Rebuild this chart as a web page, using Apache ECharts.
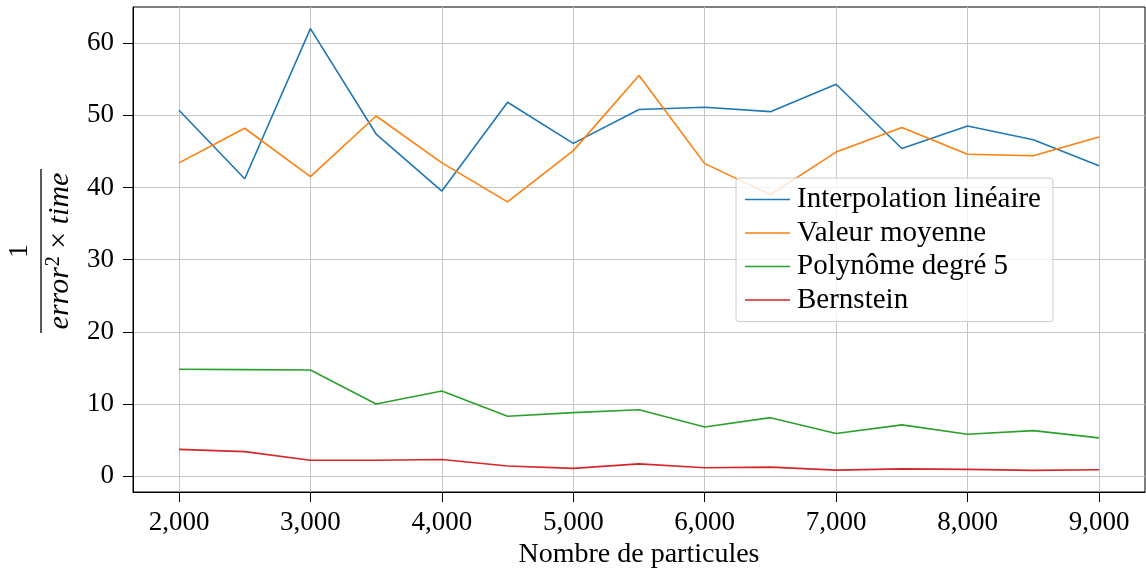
<!DOCTYPE html>
<html>
<head>
<meta charset="utf-8">
<script src="https://cdn.jsdelivr.net/npm/echarts@6/dist/echarts.min.js"></script>
<style>
  html, body { margin: 0; padding: 0; background: #fff; }
  #chart { width: 1146px; height: 570px; }
</style>
</head>
<body>
<div id="chart"></div>
<script>
// Number of particles used in each run
const particles = [2000, 2500, 3000, 3500, 4000, 4500, 5000, 5500, 6000, 6500, 7000, 7500, 8000, 8500, 9000];

// Efficiency 1 / (error^2 * time) for each method
const interpolationLineaire = [50.7, 41.2, 62.0, 47.4, 39.5, 51.8, 46.1, 50.8, 51.1, 50.5, 54.3, 45.4, 48.5, 46.6, 43.0];
const valeurMoyenne = [43.4, 48.2, 41.5, 49.9, 43.4, 38.0, 45.1, 55.5, 43.3, 39.0, 44.9, 48.3, 44.6, 44.4, 47.0];
const polynomeDegre5 = [14.8, 14.75, 14.7, 10.0, 11.8, 8.3, 8.8, 9.2, 6.8, 8.1, 5.9, 7.1, 5.8, 6.3, 5.3];
const bernstein = [3.7, 3.4, 2.2, 2.2, 2.3, 1.4, 1.07, 1.7, 1.15, 1.25, 0.83, 1.0, 0.93, 0.8, 0.88];

const seriesNames = ['Interpolation linéaire', 'Valeur moyenne', 'Polynôme degré 5', 'Bernstein'];
const seriesColors = ['#1f77b4', '#ff7f0e', '#2ca02c', '#d62728'];

// Tick positions
const xTicks = [2000, 3000, 4000, 5000, 6000, 7000, 8000, 9000];
const yTicks = [0, 10, 20, 30, 40, 50, 60];

const xAxisTitle = 'Nombre de particules';

const FONT = 'Liberation Serif';

function withThousands(v) {
  return String(Math.round(v)).replace(/\B(?=(\d{3})+(?!\d))/g, ',');
}

function pairs(values) {
  return particles.map((p, i) => [p, values[i]]);
}

const allValues = [interpolationLineaire, valeurMoyenne, polynomeDegre5, bernstein];

const chart = echarts.init(document.getElementById('chart'), null, { renderer: 'canvas' });

const gridLine = { show: true, lineStyle: { color: '#c6c6c6', width: 1 } };

chart.setOption({
  animation: false,
  backgroundColor: '#ffffff',
  grid: {
    left: 133, top: 7, width: 1012, height: 485,
    outerBoundsMode: 'none',
    containLabel: false,
    show: true, borderColor: '#000', borderWidth: 1, backgroundColor: 'transparent'
  },
  xAxis: {
    type: 'value',
    min: 1650, max: 9350,
    name: xAxisTitle,
    nameLocation: 'middle',
    nameGap: 46,
    nameTextStyle: { fontFamily: FONT, fontSize: 28, color: '#000' },
    axisLine: { show: true, onZero: false, lineStyle: { color: '#000', width: 1 } },
    axisTick: { show: true, inside: false, length: 10, lineStyle: { color: '#000' }, customValues: xTicks },
    axisLabel: {
      show: true, margin: 17, fontFamily: FONT, fontSize: 27, color: '#000',
      customValues: xTicks, formatter: withThousands
    },
    splitLine: gridLine
  },
  yAxis: {
    type: 'value',
    min: -2.2, max: 65.0,
    axisLine: { show: true, onZero: false, lineStyle: { color: '#000', width: 1 } },
    axisTick: { show: true, inside: false, length: 10, lineStyle: { color: '#000' }, customValues: yTicks },
    axisLabel: {
      show: true, margin: 19, fontFamily: FONT, fontSize: 27, color: '#000',
      customValues: yTicks
    },
    splitLine: gridLine
  },
  legend: {
    orient: 'vertical',
    left: 736, top: 178,
    padding: [6, 12, 6, 9],
    itemWidth: 45, itemHeight: 1.6, itemGap: 2.5,
    icon: 'rect',
    backgroundColor: 'rgba(255,255,255,0.8)',
    borderColor: '#cccccc', borderWidth: 1, borderRadius: 3,
    textStyle: { fontFamily: FONT, fontSize: 29, color: '#000', lineHeight: 31, padding: [0, 0, 0, 2] },
    data: seriesNames
  },
  graphic: [{
    type: 'group',
    x: 41, y: 251,
    rotation: Math.PI / 2,
    children: [
      { type: 'text', x: 0, y: -21,
        style: { text: '1', fontFamily: FONT, fontSize: 28, fill: '#000', align: 'center', verticalAlign: 'middle' } },
      { type: 'line', shape: { x1: -82, y1: 0, x2: 82, y2: 0 }, style: { stroke: '#000', lineWidth: 1.3 } },
      { type: 'text', x: 0, y: 19,
        style: {
          text: '{i|error}{s|2}{n| × }{i|time}',
          align: 'center', verticalAlign: 'middle',
          rich: {
            i: { fontFamily: FONT, fontStyle: 'italic', fontSize: 30, fill: '#000' },
            s: { fontFamily: FONT, fontSize: 20, fill: '#000', padding: [0, 0, 13, 1] },
            n: { fontFamily: FONT, fontSize: 30, fill: '#000' }
          }
        } }
    ]
  }],
  series: seriesNames.map((name, k) => ({
    name: name,
    type: 'line',
    data: pairs(allValues[k]),
    symbol: 'none',
    showSymbol: false,
    color: seriesColors[k],
    lineStyle: { color: seriesColors[k], width: 1.6 },
    z: 2 + k
  }))
});
</script>
</body>
</html>
